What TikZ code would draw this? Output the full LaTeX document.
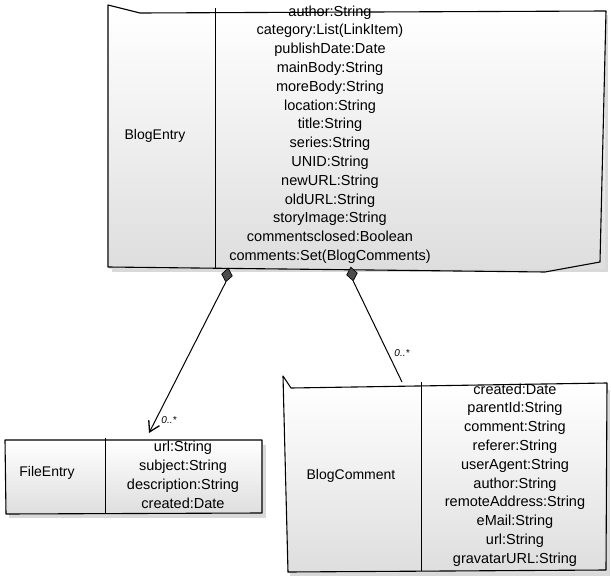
\documentclass[tikz,border=0pt]{standalone}
\usepackage{fontspec}
\setmainfont{Liberation Sans}
\usetikzlibrary{shapes.geometric,arrows.meta,shadows}
\begin{document}
\begin{tikzpicture}[x=1pt,y=-1pt]
\useasboundingbox (0,0) rectangle (611,578);
\tikzset{
  classbody/.style={rectangle, draw=none, inner sep=0pt,
    top color=white, bottom color=black!13,
    drop shadow={shadow xshift=3pt, shadow yshift=-4pt, opacity=0.3}},
  edge/.style={draw=black, line width=1.1pt, line join=round},
  divider/.style={draw=black, line width=1pt},
  clsname/.style={font=\fontsize{14}{18}\selectfont, inner sep=0pt},
  attrs/.style={font=\fontsize{14.5}{18.8}\selectfont, align=center, inner sep=0pt},
  comp/.style={diamond, draw=black, fill=black!70, line width=0.7pt,
    minimum width=11pt, minimum height=14pt, inner sep=0pt},
  link/.style={draw=black, line width=1pt},
  mult/.style={font=\fontsize{10}{11}\selectfont\itshape, inner sep=1pt}
}
% ---------- BlogEntry ----------
\node[classbody, minimum width=496pt, minimum height=257pt] (be) at (357,139.5) {};
\draw[edge] (108,5) -- (140,13) -- (606,11) -- (600,262) -- (545,272) -- (108,267) -- cycle;
\draw[divider] (215,8) -- (215,268);
\node[clsname] (ben) at (155,136) {BlogEntry};
\node[attrs] (bea) at (330,134.5) {author:String\\category:List(LinkItem)\\publishDate:Date\\mainBody:String\\moreBody:String\\location:String\\title:String\\series:String\\UNID:String\\newURL:String\\oldURL:String\\storyImage:String\\commentsclosed:Boolean\\comments:Set(BlogComments)};
% ---------- FileEntry ----------
\node[classbody, minimum width=257pt, minimum height=73pt] (fe) at (134,477) {};
\draw[edge] (5,440) -- (262,440) -- (262,513) -- (6,514) -- cycle;
\draw[divider] (105,438) -- (105,514);
\node[clsname] (fen) at (47,473) {FileEntry};
\node[attrs] (fea) at (183,475) {url:String\\subject:String\\description:String\\created:Date};
% ---------- BlogComment ----------
\node[classbody, minimum width=320pt, minimum height=186pt] (bc) at (447,479) {};
\draw[edge] (283,376) -- (291,388) -- (607,383) -- (606,570) -- (288,572) -- cycle;
\draw[divider] (421,382) -- (421,571);
\node[clsname] (bcn) at (351,476) {BlogComment};
\node[attrs] (bca) at (515,475) {created:Date\\parentId:String\\comment:String\\referer:String\\userAgent:String\\author:String\\remoteAddress:String\\eMail:String\\url:String\\gravatarURL:String};
% ---------- connectors ----------
\node[comp, rotate=-10] (d1) at (227,275) {};
\node[comp, rotate=10] (d2) at (352,274) {};
\coordinate (fein) at (149,433);
\coordinate (bcin) at (402,382);
\draw[link, -{Straight Barb[length=10pt,width=12pt,line width=1.3pt]}] (d1.south) -- (fein);
\draw[link] (d2.south) -- (bcin);
\node[mult] (m1) at (169,420) {0..*};
\node[mult] (m2) at (402,353) {0..*};
\end{tikzpicture}
\end{document}
